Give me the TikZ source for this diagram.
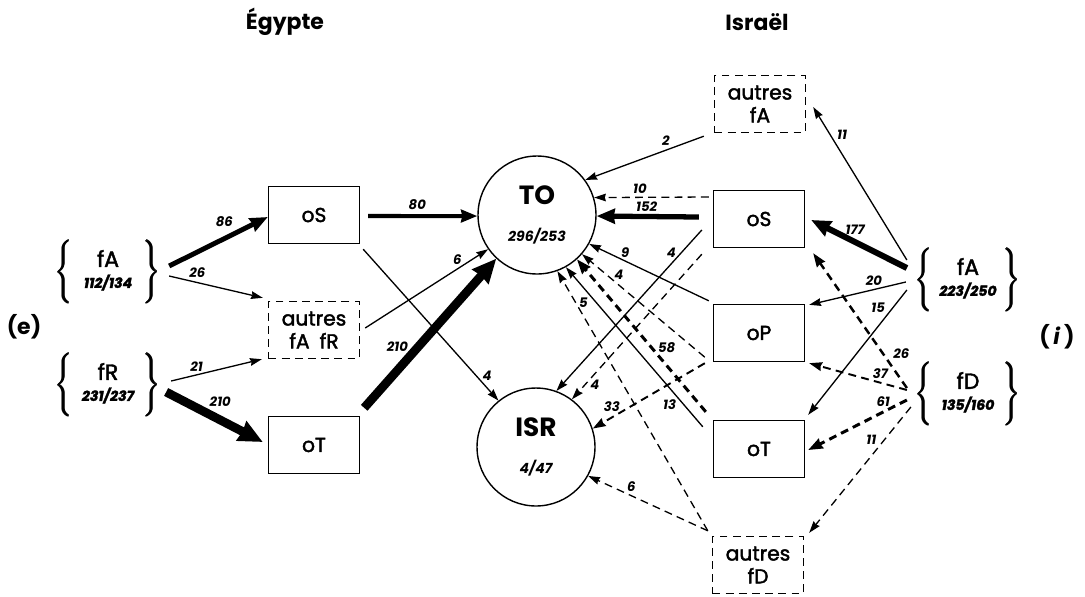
\documentclass[tikz,border=0pt]{standalone}
\usepackage{amsmath}
\usepackage{fontspec}
\setmainfont{Poppins}
\newfontfamily\medfont{Poppins}[FakeBold=2]
\usetikzlibrary{arrows.meta,positioning}

\newcommand{\boxfont}{\medfont\fontsize{11.5}{13}\selectfont}
\newcommand{\numfont}{\fontsize{8}{9}\selectfont\bfseries\itshape}
\newcommand{\polefont}{\fontsize{15}{16}\selectfont\bfseries\upshape}
\newcommand{\labfont}{\fontsize{7.5}{8}\selectfont\bfseries\itshape}
\newcommand{\bras}{\vcenter{\hbox{\rule[-17pt]{0pt}{34pt}}}}
\newcommand{\grp}[2]{\pmb{$\left\{\bras\right.$}\hbox to 38pt{\hss\begin{tabular}{@{}c@{}}{\fontsize{12.5}{14}\selectfont #1}\\[-1pt]{\numfont #2}\end{tabular}\hss}\pmb{$\left.\bras\right\}$}}

\tikzset{
  boite/.style={draw, line width=0.8pt, minimum width=1.82cm, minimum height=1.14cm, inner sep=0pt, align=center, font=\boxfont},
  autre/.style={boite, dash pattern=on 4.5pt off 3pt},
  pole/.style={draw, circle, line width=0.8pt, minimum size=2.36cm, inner sep=0pt, align=center, font=\numfont},
  grp/.style={inner sep=0pt, font=\boxfont},
  titre/.style={font=\fontsize{12.5}{14}\selectfont\bfseries},
  lab/.style={font=\labfont, inner sep=0pt},
  tirets/.style={dash pattern=on 4.5pt off 3pt},
}

\begin{document}
\begin{tikzpicture}[->, >={Stealth[length=5.5pt 1.6,width=3pt 1.8,inset=0.6pt]}, x=0.02cm, y=-0.02cm, line width=0.75pt]
\useasboundingbox (0,0) rectangle (1085,596);

% titres
\node[titre] (eg) at (285,22) {Égypte};
\node[titre] (is) at (757,22) {Israël};
\node[titre] (e)  at (24,327) {(e)};
\node[titre] (i)  at (1057,337) {(\,\textit{i}\,)};

% Egypte
\node[grp]   (fAe)  at (108,272) {\grp{fA}{112/134}};
\node[grp]   (fRe)  at (108,385) {\grp{fR}{231/237}};
\node[boite] (oSe)  at (314,215) {oS};
\node[autre] (autE) at (314,330) {autres\\fA\enspace fR};
\node[boite] (oTe)  at (314,445) {oT};

% TO et ISR
\node[pole] (TO)  at (537,215) {{\polefont TO}\\[12pt]296/253};
\node[pole] (ISR) at (536,447) {{\polefont ISR}\\[12pt]4/47};

% Israel
\node[autre] (autAi) at (760,104) {autres\\fA};
\node[boite] (oSi)   at (759,219) {oS};
\node[boite] (oPi)   at (759,333) {oP};
\node[boite] (oTi)   at (759,449) {oT};
\node[autre] (autDi) at (758,565) {autres\\fD};
\node[grp]   (fAi)   at (968,280) {\grp{fA}{223/250}};
\node[grp]   (fDi)   at (968,394) {\grp{fD}{135/160}};

% flux Egypte
\path
([shift={(8,-6)}]fAe.east) edge[line width=2.8pt] node[lab,pos=.56,shift={(0,-17)}] {86} ([shift={(0,2)}]oSe.west)
([shift={(8,4)}]fAe.east) edge node[lab,pos=.3,shift={(0,-10)}] {26} ([shift={(-5,-3)}]autE.north west)
([shift={(10,-4)}]fRe.east) edge node[lab,pos=.28,shift={(0,-8)}] {21} ([shift={(-6,0)}]autE.south west)
([shift={(5,7)}]fRe.east) edge[line width=5pt] node[lab,pos=.56,shift={(0,-18)}] {210} ([shift={(-5,-3)}]oTe.west)
([shift={(8,1)}]oSe.east) edge[line width=2.3pt] node[lab,pos=.45,shift={(0,-11)}] {80} (TO.181)
([shift={(5,-2)}]autE.east) edge node[lab,pos=.75,shift={(0,-9)}] {6} (TO.215)
([shift={(4,-8)}]oTe.north east) edge[line width=5pt] node[lab,pos=.41,shift={(-21,0)}] {210} (TO.227)
([shift={(3,5)}]oSe.south east) edge node[lab,pos=.85,shift={(9,-2)}] {4} (ISR.129)
;

% flux Israel vers TO et ISR
\path
([shift={(-10,3)}]autAi.south west) edge node[lab,pos=.32,shift={(0,-10)}] {2} (TO.36)
([shift={(-4,-22)}]oSi.west) edge[tirets] node[lab,pos=.6,shift={(0,-9)}] {10} (TO.17)
([shift={(-14,-2)}]oSi.west) edge[line width=3pt] node[lab,pos=.51,shift={(0,-10)}] {152} (TO.-1)
([shift={(-11,11)}]oSi.west) edge node[lab,pos=.14,shift={(-10,0)}] {4} (ISR.70)
([shift={(-11,6)}]oSi.south west) edge[tirets] node[lab,pos=.9,shift={(10,0)}] {4} (ISR.53)
([shift={(-4,-3)}]oPi.north west) edge node[lab,pos=.7,shift={(0,-8)}] {9} (TO.-29)
([shift={(-8,-5)}]oPi.south west) edge[tirets] node[lab,pos=.7,shift={(0,-10)}] {4} (TO.-41)
([shift={(-8,1)}]oPi.south west) edge[tirets,line width=1.1pt] node[lab,pos=.83,shift={(0,-11)}] {33} (ISR.18)
([shift={(-7,-8)}]oTi.north west) edge[tirets,line width=1.7pt] node[lab,pos=.42,shift={(15,0)}] {58} (TO.-48)
([shift={(-10,7)}]oTi.north west) edge node[lab,pos=.14,shift={(-14,0)}] {13} (TO.-61)
([shift={(-4,-5)}]autDi.north west) edge[tirets] node[lab,pos=.88,shift={(8,0)}] {5} (TO.-70)
([shift={(-4,-5)}]autDi.north west) edge[tirets] node[lab,pos=.64,shift={(0,-9)}] {6} (ISR.-29)
;

% flux Israel depuis fA et fD
\path
([shift={(-8,-20)}]fAi.west) edge node[lab,pos=.82,shift={(12,0)}] {11} ([shift={(7,3)}]autAi.east)
([shift={(-8,-12)}]fAi.west) edge[line width=3.4pt] node[lab,pos=.54,shift={(0,-12)}] {177} ([shift={(6,1)}]oSi.east)
([shift={(-9,2)}]fAi.west) edge node[lab,pos=.33,shift={(0,-9)}] {20} ([shift={(4,1)}]oPi.north east)
([shift={(-8,10)}]fAi.west) edge node[lab,pos=.14,shift={(-15,0)}] {15} ([shift={(3,-5)}]oTi.north east)
([shift={(-8,-6)}]fDi.west) edge[tirets,line width=1.4pt] node[lab,pos=.24,shift={(17,-2)}] {26} ([shift={(8,5)}]oSi.south east)
([shift={(-8,-4)}]fDi.west) edge[tirets,line width=1.1pt] node[lab,pos=.27,shift={(0,-9)}] {37} ([shift={(4,1)}]oPi.south east)
([shift={(-8,6)}]fDi.west) edge[tirets,line width=1.7pt] node[lab,pos=.24,shift={(0,-10)}] {61} ([shift={(3,1)}]oTi.east)
([shift={(-4,13)}]fDi.west) edge[tirets] node[lab,pos=.26,shift={(-13,0)}] {11} ([shift={(5,-3)}]autDi.north east)
;
\end{tikzpicture}
\end{document}
